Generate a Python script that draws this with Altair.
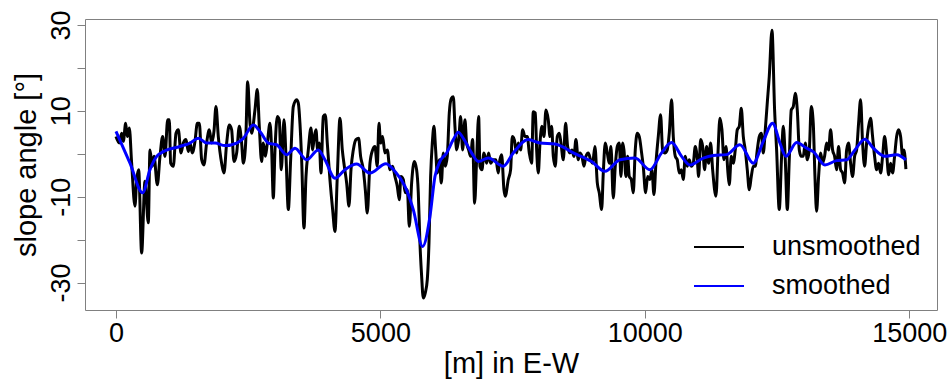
import altair as alt
import pandas as pd

# unsmoothed profile (distance in m, slope angle in degrees)
raw_x = [0, 63, 107, 139, 183, 214, 252, 296, 359, 391, 429, 485, 548, 611, 643, 687, 719, 782, 832, 882,
         927, 977, 1008, 1034, 1084, 1135, 1179, 1229, 1273, 1324, 1368, 1399, 1443, 1494, 1538, 1576, 1620, 1664, 1714, 1765,
         1809, 1853, 1891, 1935, 1998, 2042, 2093, 2143, 2187, 2231, 2282, 2332, 2376, 2408, 2452, 2490, 2534, 2565, 2628, 2672,
         2710, 2754, 2786, 2824, 2862, 2912, 2944, 2975, 3007, 3051, 3088, 3126, 3177, 3215, 3259, 3303, 3353, 3416,
         3448, 3479, 3511, 3555, 3593, 3637, 3687, 3719, 3750, 3782, 3813, 3845, 3876, 3920, 3958, 3996, 4046, 4097, 4141, 4185,
         4236, 4280, 4318, 4362, 4406, 4444, 4488, 4538, 4588, 4626, 4677, 4715, 4752, 4803, 4853, 4897, 4941, 4973, 5004, 5042,
         5086, 5131, 5181, 5231, 5275, 5320, 5357, 5389, 5433, 5471, 5509, 5547, 5591, 5641, 5685, 5717, 5748, 5780, 5811, 5849,
         5887, 5919, 5950, 5982, 6013, 6045, 6076, 6114, 6152, 6190, 6227, 6265, 6303, 6341, 6379, 6410, 6442, 6486, 6517, 6555,
         6599, 6631, 6669, 6706, 6744, 6782, 6820, 6858, 6883, 6921, 6958, 7009, 7047, 7084, 7135, 7185, 7229,
         7249, 7293, 7337, 7362, 7419, 7463, 7494, 7532, 7576, 7608, 7652, 7690, 7734, 7778, 7816, 7860, 7891, 7929, 7955, 7986,
         8018, 8055, 8093, 8131, 8175, 8207, 8238, 8270, 8307, 8345, 8383, 8415, 8459, 8503, 8541, 8585, 8623, 8660, 8698, 8742,
         8774, 8812, 8850, 8887, 8932, 8975, 9013, 9057, 9102, 9139, 9184, 9215, 9253, 9291, 9329, 9360, 9404, 9442, 9480, 9518,
         9549, 9581, 9606, 9644, 9675, 9707, 9745, 9782, 9820, 9858, 9896, 9940, 9971, 10016, 10053, 10097, 10135, 10173, 10211, 10255,
         10299, 10337, 10381, 10425, 10463, 10507, 10539, 10577, 10614, 10652, 10690, 10728, 10766, 10803, 10841, 10879, 10917, 10955, 10993,
         11018, 11056, 11094, 11131, 11169, 11207, 11245, 11283, 11346, 11384, 11421, 11459, 11497, 11535, 11573, 11598, 11636, 11673, 11711, 11749,
         11787, 11825, 11863, 11900, 11938, 11976, 12014, 12052, 12089, 12127, 12165, 12203, 12241, 12279, 12316, 12354, 12405, 12455, 12493, 12543,
         12587, 12619, 12657, 12695, 12732, 12770, 12808, 12846, 12884, 12922, 12959, 12997, 13035, 13073, 13111, 13148, 13186, 13218, 13249, 13287,
         13325, 13363, 13400, 13438, 13476, 13514, 13552, 13590, 13627, 13665, 13703, 13741, 13779, 13817, 13854, 13892, 13930, 13968, 14006, 14043,
         14081, 14119, 14157, 14195, 14233, 14270, 14308, 14346, 14384, 14422, 14460, 14497, 14535, 14573, 14611, 14649, 14686, 14724, 14762, 14800,
         14838, 14876, 14901, 14938]

raw_y = [4.0, 2.5, 4.8, 2.9, 7.1, 4.0, 6.0, -2.2, -12.2, -6.0, -3.7, -23.1, -6.4, -16.1, 0.9, -2.9, -0.6, -7.2, -0.6, 4.0,
         -0.6, 7.9, 7.9, -2.2, -2.9, 4.8, 5.6, 0.2, 2.5, 3.3, 0.5, 2.5, 0.2, 2.9, 7.1, 7.1, -1.4, -2.6, 2.5, 5.6,
         2.5, 5.2, 11.0, 4.0, -2.2, -4.5, 2.5, 6.7, 5.6, -1.8, 0.2, 6.4, 2.5, -2.2, 2.5, 16.8, 7.1, 4.8, 10.2, 15.0,
         6.4, -1.8, 2.5, -0.6, 2.5, 7.1, 0.9, -10.3, 0.9, 8.7, 7.9, -3.7, 7.9, -0.6, -13.0, -1.4, 11.0, 12.6,
         11.8, 7.1, -1.4, -17.3, -5.3, 0.9, 6.0, 0.9, 4.0, 5.6, 0.9, 2.5, -4.5, 8.7, 9.1, 2.5, -6.0, -13.0, -18.1, -5.3,
         8.3, 0.9, -2.9, -6.8, -12.2, -3.7, 0.9, 3.3, 3.6, -0.6, -3.7, -8.4, -13.8, -2.2, 0.9, 1.7, -2.9, 7.1, 2.5, 4.0,
         0.2, 0.9, -3.7, -2.9, -5.3, -7.6, -10.7, -5.3, -6.0, -9.1, -8.4, -16.9, -6.8, -1.8, -3.7, -9.1, -20.8, -28.5, -33.6, -32.4,
         -29.3, -20.8, -5.3, 2.5, 6.4, 0.9, -4.5, -1.4, -6.8, 0.2, -2.9, -0.6, 9.5, 12.9, 13.3, 6.4, 0.9, 4.0, 8.7, 0.9,
         7.9, 2.5, 0.9, -0.6, 3.3, -11.5, -1.4, 8.7, -2.9, -3.7, 0.2, -2.2, 0.2, -2.2, -1.4, -1.4, -4.5,
         -2.2, -0.2, -8.4, -9.9, -6.0, -3.7, 4.0, 3.3, 0.2, 2.5, 0.9, 5.6, 4.0, 4.0, 0.2, -2.2, 9.8, 9.5, 0.9, -4.5,
         2.5, 6.4, 4.0, 10.2, 7.9, 4.0, 6.4, -0.6, -2.9, 4.0, 4.8, 2.5, -1.4, 7.1, 1.7, 0.2, 0.9, -0.6, 3.3, -1.4,
         0.2, -0.6, -2.9, -0.6, 0.2, -1.4, -2.2, 1.7, -6.8, -9.1, -13.0, -4.5, 2.5, 0.2, -2.2, 1.7, -10.3, -2.9, 1.7, 2.5,
         -5.3, 2.5, 0.9, -5.3, -0.6, -5.3, -6.0, -9.1, 0.9, 4.8, 4.0, 0.2, -2.9, -9.1, -5.3, -6.0, -3.7, -9.5, -2.2, 4.0,
         9.1, 0.9, 0.2, 0.9, 4.8, 12.6, 4.0, -0.6, -1.4, -4.5, -3.7, -6.0, -0.6, -2.9, -1.4, -2.9, -2.2, 1.7, -1.4,
         -5.3, 3.3, 1.7, -3.7, 1.7, -2.2, 2.5, -3.7, -9.9, 0.2, 8.3, 5.6, -1.4, 1.7, -4.5, -7.2, -0.6, -2.2, 0.9, 5.6,
         6.4, 10.6, 4.0, 0.9, -3.7, -8.4, -5.3, -2.9, -2.9, 0.9, 4.0, 4.8, 0.2, 5.6, 11.8, 18.0, 28.8, 10.2, 0.9, -13.0,
         -0.6, 6.4, -1.4, -13.0, -1.4, 10.2, 11.0, 14.1, 10.2, 0.9, -0.6, -0.6, 2.5, -1.4, 0.9, 11.0, 7.1, -5.3, -13.4, -5.3,
         0.2, -2.2, -0.6, 2.5, 0.9, 5.6, 0.9, -0.6, -3.7, 1.7, -3.7, -4.5, -6.8, 0.9, 2.5, -2.2, -5.3, -0.6, 0.9, 7.1,
         12.6, 2.5, -2.9, 2.5, 6.4, 8.3, 4.0, -0.6, -3.7, -2.2, -4.5, -0.6, 4.0, 0.2, -4.9, -2.2, -4.5, -0.6, 4.0, 5.6,
         4.0, -0.6, 0.9, -3.6]

# smoothed profile
sm_x = [0, 265, 504, 643, 769, 895, 1210, 1399, 1557, 1714, 1872, 2061, 2282, 2408, 2597, 2723, 2881, 3038, 3227, 3385,
        3605, 3826, 3952, 4141, 4330, 4551, 4803, 5105, 5275, 5465, 5622, 5799, 5937, 6032, 6126, 6253, 6379, 6473, 6568, 6725,
        6851, 7040, 7324, 7513, 7797, 8018, 8301, 8648, 8994, 9247, 9530, 9814, 10097, 10318, 10507, 10696, 10854, 11106, 11295, 11547,
        11800, 12052, 12241, 12417, 12556, 12669, 12871, 13060, 13186, 13407, 13627, 13817, 13974, 14163, 14321, 14541, 14762, 14938]
sm_y = [5.2, -2.2, -9.1, -3.7, -0.6, 0.5, 1.7, 2.5, 3.6, 2.5, 2.5, 1.9, 2.5, 3.6, 6.7, 5.2, 2.5, 2.1, -0.2, 1.3,
        -1.4, 0.9, -1.4, -5.7, -3.7, -2.4, -4.5, -2.3, -4.1, -7.6, -13.0, -21.6, -14.6, -5.3, -1.8, 0.2, 3.3, 5.0, 3.6, 0.2,
        -1.8, -1.0, -2.9, 0.2, 3.3, 2.5, 2.3, 0.2, -1.8, -4.1, -1.4, -1.0, -3.7, 0.2, 2.6, -0.6, -2.6, -1.0, -0.4, -0.2,
        2.1, -2.2, 2.9, 7.1, 2.5, -0.6, 2.6, 1.3, 0.5, -2.6, -1.6, -1.4, 0.9, 3.4, 1.3, -0.6, -0.2, -1.4]

series_names = ["unsmoothed", "smoothed"]
series_colors = ["#000000", "#0000ff"]
x_ticks = [0, 5000, 10000, 15000]
y_ticks = [-30, -20, -10, 0, 10, 20, 30]

n = min(len(raw_x), len(raw_y))
df_raw = pd.DataFrame({"x": raw_x[:n], "y": raw_y[:n], "series": series_names[0], "i": list(range(n))})
m = min(len(sm_x), len(sm_y))
df_sm = pd.DataFrame({"x": sm_x[:m], "y": sm_y[:m], "series": series_names[1], "i": list(range(m))})

FONT = "Liberation Sans"
FS = 27
TFS = 29
GRAY = "#808080"

xenc = alt.X("x:Q", scale=alt.Scale(domain=[-586, 15526], nice=False, zero=False),
             axis=alt.Axis(values=x_ticks, format="d", title="[m] in E-W", grid=False, domain=False,
                           tickSize=8, tickColor=GRAY, labelFontSize=FS, labelFont=FONT, labelColor="#000000",
                           labelPadding=2, labelFlush=False, labelOverlap=False,
                           titleFontSize=TFS, titleFont=FONT, titleFontWeight="normal", titleColor="#000000",
                           titlePadding=3))
yenc = alt.Y("y:Q", scale=alt.Scale(domain=[-36.4, 31.4], nice=False, zero=False),
             axis=alt.Axis(values=y_ticks, title="slope angle [°]", grid=False, domain=False,
                           labelExpr="datum.value % 20 == 0 ? '' : '' + datum.value",
                           labelAngle=-90, labelAlign="center", labelBaseline="bottom",
                           tickSize=8, tickColor=GRAY, labelFontSize=FS, labelFont=FONT, labelColor="#000000",
                           labelPadding=2, labelOverlap=False,
                           titleFontSize=TFS, titleFont=FONT, titleFontWeight="normal", titleColor="#000000",
                           titlePadding=6))
cenc = alt.Color("series:N", scale=alt.Scale(domain=series_names, range=series_colors),
                 legend=alt.Legend(title=None, orient="none", legendX=608, legendY=202,
                                   symbolType="stroke", symbolSize=2500, symbolStrokeWidth=2,
                                   labelFontSize=FS, labelFont=FONT, labelColor="#000000",
                                   labelOffset=27, rowPadding=-11, labelLimit=400))

raw_line = alt.Chart(df_raw).mark_line(strokeWidth=3, interpolate="monotone", strokeJoin="round").encode(
    x=xenc, y=yenc, color=cenc, order="i:Q")
sm_line = alt.Chart(df_sm).mark_line(strokeWidth=3, interpolate="monotone").encode(
    x=xenc, y=yenc, color=cenc, order="i:Q")

chart = alt.layer(raw_line, sm_line).properties(
    width=852, height=291,
    autosize=alt.AutoSizeParams(type="none"),
    padding={"left": 85, "top": 19, "right": 12, "bottom": 71},
    background="white",
).configure_view(stroke=GRAY, strokeWidth=1)

chart.save("out.html", embed_options={"renderer": "svg", "actions": False})
